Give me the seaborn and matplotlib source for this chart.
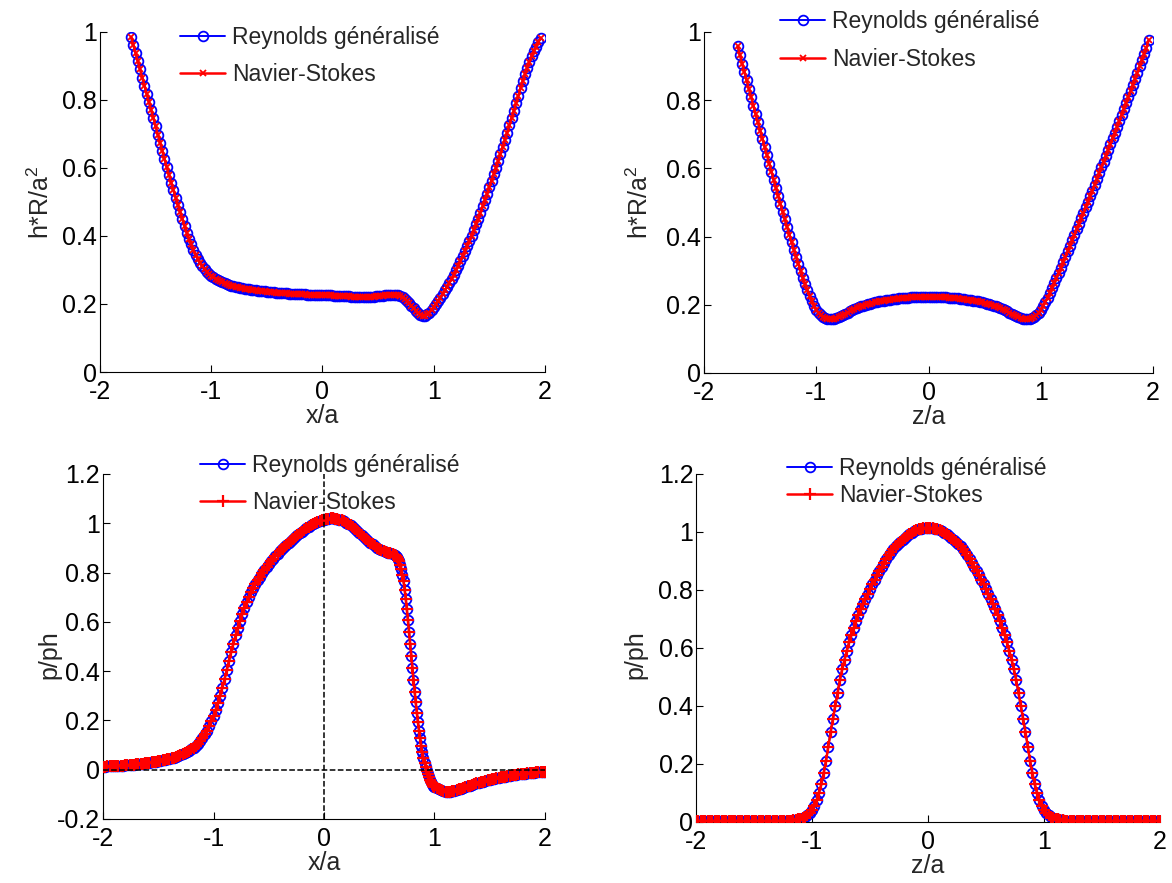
import numpy as np
import seaborn as sns
import matplotlib.pyplot as plt

# -----------------------------
# Data read from the figure (sampled every 0.02 along the abscissa)
# -----------------------------
# top-left: h*R/a^2 along x/a, first sample at x/a = -1.72
hx_start = -1.72
hx_h = [0.985, 0.962, 0.938, 0.914, 0.890, 0.866, 0.842, 0.818, 0.794, 0.770,
        0.746, 0.722, 0.698, 0.674, 0.650, 0.626, 0.603, 0.580, 0.557, 0.535,
        0.513, 0.492, 0.471, 0.450, 0.430, 0.410, 0.392, 0.375, 0.359, 0.345,
        0.332, 0.321, 0.311, 0.302, 0.294, 0.288, 0.282,
        0.278, 0.274, 0.270, 0.267, 0.264, 0.261, 0.258, 0.256, 0.254, 0.252,
        0.250, 0.249, 0.247, 0.246, 0.245, 0.244, 0.243, 0.242, 0.241, 0.240,
        0.239, 0.238, 0.237, 0.237, 0.236, 0.235, 0.235, 0.234, 0.233, 0.233,
        0.232, 0.232, 0.231, 0.231, 0.230, 0.230, 0.229, 0.229, 0.228, 0.228,
        0.228, 0.228, 0.227, 0.227, 0.227, 0.227, 0.226, 0.226, 0.226,
        0.226,
        0.225, 0.225, 0.225, 0.225, 0.224, 0.224, 0.224, 0.224, 0.223, 0.223,
        0.223, 0.223, 0.222, 0.222, 0.222, 0.222, 0.222, 0.222, 0.222, 0.222,
        0.222, 0.222, 0.222, 0.223, 0.223, 0.224, 0.224, 0.225, 0.225, 0.226,
        0.226, 0.227, 0.227, 0.226, 0.223, 0.220, 0.215, 0.209, 0.202, 0.195,
        0.187, 0.180, 0.174, 0.169, 0.166, 0.166, 0.170, 0.175, 0.183, 0.191,
        0.200, 0.209, 0.219, 0.229, 0.240, 0.251, 0.262, 0.274, 0.286, 0.299,
        0.312, 0.326, 0.340, 0.355, 0.370, 0.385, 0.401, 0.417, 0.434, 0.451,
        0.469, 0.487, 0.506, 0.524, 0.543, 0.562, 0.582, 0.601, 0.621, 0.641,
        0.662, 0.683, 0.704, 0.725, 0.746, 0.768, 0.790, 0.812, 0.834, 0.856,
        0.876, 0.895, 0.912, 0.928, 0.943, 0.957, 0.970, 0.982]

# top-right: h*R/a^2 along z/a, first sample at z/a = -1.70
hz_start = -1.70
hz_h = [0.958, 0.932, 0.907, 0.883, 0.858, 0.833, 0.809, 0.784, 0.759, 0.735,
        0.710, 0.686, 0.662, 0.638, 0.614, 0.590, 0.566, 0.543, 0.519, 0.496,
        0.473, 0.451, 0.428, 0.406, 0.384, 0.362, 0.341, 0.320, 0.299, 0.279,
        0.261, 0.243, 0.226, 0.211, 0.197,
        0.185, 0.176, 0.169, 0.164, 0.161, 0.159, 0.158, 0.158, 0.159, 0.161,
        0.163, 0.167, 0.170, 0.174, 0.177, 0.181, 0.184, 0.187, 0.190, 0.193,
        0.195, 0.197, 0.199, 0.201, 0.203, 0.205, 0.207, 0.208, 0.210, 0.211,
        0.212, 0.213, 0.214, 0.215, 0.216, 0.217, 0.218, 0.219, 0.220, 0.220,
        0.221, 0.221, 0.222, 0.222, 0.222, 0.223, 0.223, 0.223, 0.223, 0.223,
        0.223,
        0.223, 0.223, 0.223, 0.223, 0.223, 0.222, 0.222, 0.222, 0.221, 0.221,
        0.220, 0.220, 0.219, 0.218, 0.217, 0.216, 0.215, 0.214, 0.213, 0.212,
        0.211, 0.210, 0.208, 0.207, 0.205, 0.203, 0.201, 0.199, 0.197, 0.195,
        0.193, 0.190, 0.187, 0.184, 0.181, 0.177, 0.174, 0.170, 0.167, 0.163,
        0.161, 0.159, 0.158, 0.158, 0.159, 0.161, 0.164, 0.169, 0.176, 0.185,
        0.196, 0.208, 0.221, 0.235, 0.249, 0.264, 0.279, 0.294, 0.309, 0.325,
        0.341, 0.357, 0.373, 0.389, 0.405, 0.421, 0.437, 0.453, 0.469, 0.486,
        0.502, 0.519, 0.535, 0.552, 0.569, 0.586, 0.603, 0.620, 0.637, 0.654,
        0.671, 0.688, 0.705, 0.722, 0.739, 0.757, 0.774, 0.792, 0.809, 0.827,
        0.845, 0.863, 0.881, 0.899, 0.917, 0.935, 0.953, 0.975]

# bottom-left: p/ph along x/a in three sampled stretches
pxa_start, pxa_step = -2.00, 0.02
pxa_p = [0.012, 0.012, 0.013, 0.013, 0.014, 0.014, 0.015, 0.015, 0.016, 0.017,
         0.018, 0.018, 0.019, 0.020, 0.021, 0.022, 0.023, 0.024, 0.025, 0.026,
         0.027, 0.028, 0.030, 0.031, 0.033, 0.034, 0.036, 0.038, 0.040, 0.042,
         0.044, 0.046, 0.049, 0.052, 0.055, 0.058, 0.062, 0.066, 0.071, 0.076,
         0.082, 0.089, 0.097, 0.106, 0.117, 0.129, 0.143, 0.159, 0.176, 0.196,
         0.218, 0.243, 0.270, 0.300, 0.333, 0.368, 0.405, 0.442, 0.478, 0.512,
         0.545, 0.576, 0.605, 0.631, 0.656, 0.679, 0.700, 0.720, 0.738, 0.754,
         0.770, 0.784, 0.798, 0.811, 0.823, 0.835, 0.846, 0.857, 0.867, 0.877,
         0.886, 0.895, 0.904, 0.913, 0.921, 0.929, 0.937, 0.945, 0.952, 0.959,
         0.966, 0.973, 0.979, 0.985, 0.991, 0.996, 1.001, 1.005, 1.009, 1.012,
         1.015,
         1.017, 1.019, 1.020, 1.020, 1.019, 1.018, 1.015, 1.012, 1.008, 1.003,
         0.997, 0.991, 0.984, 0.977, 0.969, 0.961, 0.953, 0.945, 0.937, 0.929,
         0.921, 0.914, 0.907, 0.901, 0.896, 0.891, 0.887, 0.884, 0.881, 0.878,
         0.874, 0.870]
pxb_start, pxb_step = 0.65, 0.01
pxb_p = [0.866, 0.862, 0.855, 0.845, 0.832, 0.815, 0.792, 0.764, 0.731, 0.693,
         0.651, 0.606, 0.558, 0.509, 0.460, 0.411, 0.363, 0.317, 0.273, 0.232,
         0.194, 0.159, 0.127, 0.098, 0.072, 0.049, 0.029, 0.011, -0.005, -0.019,
         -0.031, -0.042, -0.051, -0.059, -0.066, -0.071]
pxc_start, pxc_step = 1.02, 0.02
pxc_p = [-0.076, -0.080, -0.084, -0.087, -0.089, -0.090, -0.089, -0.088, -0.085, -0.083,
         -0.080, -0.077, -0.074, -0.071, -0.068, -0.065, -0.062, -0.059, -0.056, -0.053,
         -0.050, -0.048, -0.045, -0.043, -0.041, -0.039, -0.037, -0.035, -0.033, -0.031,
         -0.030, -0.028, -0.026, -0.025, -0.023, -0.022, -0.021, -0.019, -0.018, -0.017,
         -0.016, -0.015, -0.014, -0.013, -0.012, -0.011, -0.010, -0.009, -0.009, -0.008]

# bottom-right: p/ph along z/a, first sample at z/a = -2
pz_start = -2.00
pz_p = [0.003, 0.003, 0.003, 0.003, 0.003, 0.003, 0.003, 0.003, 0.003, 0.003,
        0.003, 0.003, 0.003, 0.003, 0.003, 0.003, 0.003, 0.003, 0.003, 0.003,
        0.003, 0.003, 0.003, 0.003, 0.003, 0.003, 0.003, 0.003, 0.003, 0.003,
        0.003, 0.003, 0.003, 0.003, 0.003, 0.003, 0.003, 0.003, 0.003, 0.003,
        0.004, 0.005, 0.006, 0.007, 0.009, 0.011, 0.014, 0.018, 0.024, 0.032,
        0.042, 0.056, 0.075, 0.100, 0.130, 0.168, 0.210, 0.260, 0.310, 0.355,
        0.400, 0.446, 0.490, 0.526, 0.560, 0.591, 0.620, 0.646, 0.670, 0.693,
        0.715, 0.734, 0.752, 0.769, 0.785, 0.803, 0.820, 0.836, 0.852, 0.867,
        0.881, 0.894, 0.907, 0.919, 0.930, 0.940, 0.950, 0.959, 0.967, 0.974,
        0.981, 0.987, 0.993, 0.998, 1.002, 1.006, 1.009, 1.011, 1.013, 1.014,
        1.015,
        1.014, 1.013, 1.011, 1.009, 1.006, 1.002, 0.998, 0.993, 0.987, 0.981,
        0.974, 0.967, 0.959, 0.950, 0.940, 0.930, 0.919, 0.907, 0.894, 0.881,
        0.867, 0.852, 0.836, 0.820, 0.803, 0.785, 0.769, 0.752, 0.734, 0.715,
        0.693, 0.670, 0.646, 0.620, 0.591, 0.560, 0.526, 0.490, 0.446, 0.400,
        0.355, 0.310, 0.260, 0.210, 0.168, 0.130, 0.100, 0.075, 0.056, 0.042,
        0.032, 0.024, 0.018, 0.014, 0.011, 0.009, 0.007, 0.006, 0.005, 0.004,
        0.003, 0.003, 0.003, 0.003, 0.003, 0.003, 0.003, 0.003, 0.003, 0.003,
        0.003, 0.003, 0.003, 0.003, 0.003, 0.003, 0.003, 0.003, 0.003, 0.003,
        0.003, 0.003, 0.003, 0.003, 0.003, 0.003, 0.003, 0.003, 0.003, 0.003,
        0.003, 0.003, 0.003, 0.003, 0.003, 0.003, 0.003, 0.003, 0.003, 0.003]

LABEL_REY = "Reynolds généralisé"
LABEL_NS = "Navier-Stokes"


def grid(start, step, values):
    return np.round(start + step * np.arange(len(values)), 3)


hx_x = grid(hx_start, 0.02, hx_h)
hz_z = grid(hz_start, 0.02, hz_h)
px_x = np.concatenate([grid(pxa_start, pxa_step, pxa_p),
                       grid(pxb_start, pxb_step, pxb_p),
                       grid(pxc_start, pxc_step, pxc_p)])
px_p = pxa_p + pxb_p + pxc_p
pz_z = grid(pz_start, 0.02, pz_p)

# -----------------------------
# Style
# -----------------------------
sns.set_theme(style="white")
plt.rcParams["font.family"] = ["Liberation Sans", "DejaVu Sans"]
plt.rcParams["mathtext.fontset"] = "custom"
plt.rcParams["mathtext.rm"] = "Liberation Sans"
plt.rcParams["mathtext.it"] = "Liberation Sans"
plt.rcParams["axes.unicode_minus"] = False
FS_TICK = 18
FS_LEG = 16.5

fig = plt.figure(figsize=(11.72, 8.83), dpi=100)

panels = [
    # axes rect, x, y, ns marker, xlabel, ylabel, yticks, legend anchor,
    # labelspacing, ylabel coords
    ([0.0853, 0.5787, 0.3797, 0.3851], hx_x, hx_h, "x", "x/a", "h*R/a$^2$",
     [0, 0.2, 0.4, 0.6, 0.8, 1], (0.1536, 0.971), 0.62, (-0.103, 0.5)),
    ([0.6007, 0.5776, 0.3831, 0.3862], hz_z, hz_h, "x", "z/a", "h*R/a$^2$",
     [0, 0.2, 0.4, 0.6, 0.8, 1], (0.6655, 0.9885), 0.64, (-0.114, 0.5)),
    ([0.0879, 0.0725, 0.3771, 0.3907], px_x, px_p, "+", "x/a", "p/ph",
     [-0.2, 0, 0.2, 0.4, 0.6, 0.8, 1, 1.2], (0.1706, 0.4853), 0.6, (-0.093, 0.475)),
    ([0.5939, 0.0691, 0.3959, 0.3941], pz_z, pz_p, "+", "z/a", "p/ph",
     [0, 0.2, 0.4, 0.6, 0.8, 1, 1.2], (0.6715, 0.4823), 0.16, (-0.104, 0.48)),
]

for i, (rect, xs, ys, ns_marker, xl, yl, yt, anchor, lsp, ylc) in enumerate(panels):
    ax = fig.add_axes(rect)
    sns.lineplot(x=xs, y=ys, ax=ax, color="blue", lw=1.4, marker="o",
                 markersize=7, mfc="none", mec="blue", mew=1.3,
                 label=LABEL_REY, legend=False, zorder=2, sort=False)
    sns.lineplot(x=xs, y=ys, ax=ax, color="red", lw=1.8, marker=ns_marker,
                 markersize=4 if ns_marker == "x" else 9, mec="red",
                 mew=1.3 if ns_marker == "x" else 1.6,
                 label=LABEL_NS, legend=False, zorder=3, sort=False)

    if i == 2:
        ax.axhline(0, color="black", ls="--", lw=1.1, zorder=4)
        ax.axvline(0, color="black", ls="--", lw=1.1, zorder=4)

    ax.set_xlim(-2, 2)
    ax.set_ylim(yt[0], yt[-1])
    ax.set_xticks([-2, -1, 0, 1, 2])
    ax.set_xticklabels(["-2", "-1", "0", "1", "2"])
    ax.set_yticks(yt)
    ax.set_yticklabels([f"{v:g}" for v in yt])
    ax.tick_params(direction="in", length=5, width=0.8, labelsize=FS_TICK,
                   left=True, bottom=True, colors="black")
    ax.tick_params(axis="x", pad=6)
    ax.tick_params(axis="y", pad=2)
    sns.despine(ax=ax)
    for s in ["left", "bottom"]:
        ax.spines[s].set_color("black")
        ax.spines[s].set_linewidth(0.8)
    ax.set_xlabel(xl, fontsize=FS_TICK, labelpad=0)
    ax.set_ylabel(yl, fontsize=FS_TICK)
    ax.yaxis.set_label_coords(*ylc)

    ax.legend(loc="upper left", bbox_to_anchor=anchor,
              bbox_transform=fig.transFigure, frameon=False, fontsize=FS_LEG,
              borderpad=0, borderaxespad=0, handlelength=1.97,
              handletextpad=0.3, labelspacing=lsp)

plt.savefig("out.png", dpi=100)
